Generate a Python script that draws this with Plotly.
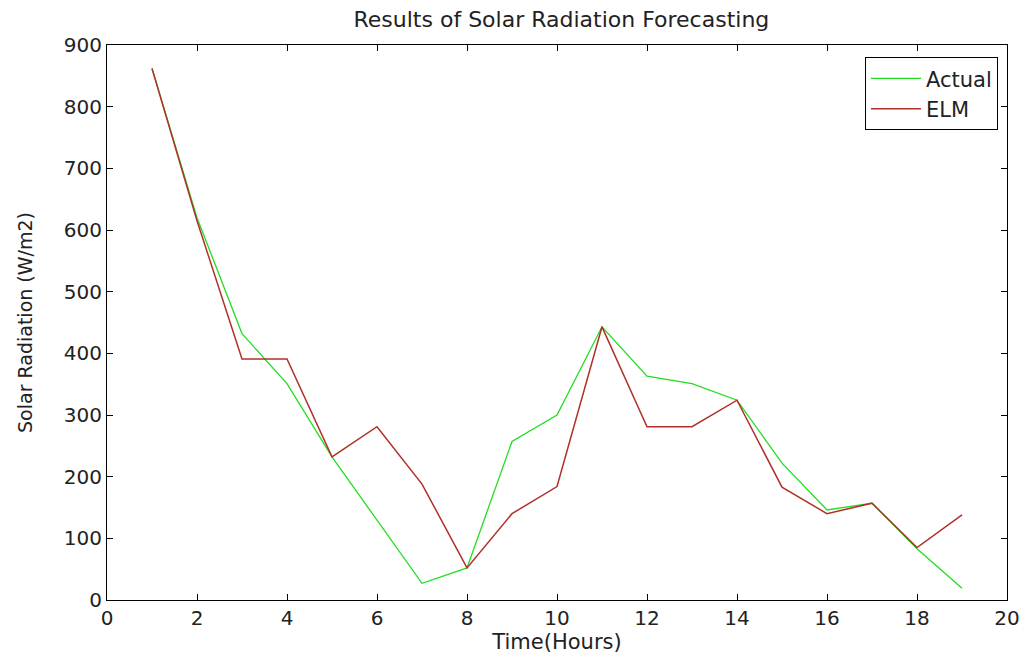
import plotly.graph_objects as go

hours = list(range(1, 20))
actual = [862, 620, 432, 351, 232, 130, 27, 52, 257, 300, 443, 363, 351, 324, 222, 146, 157, 83, 19]
elm = [862, 615, 391, 391, 232, 281, 188, 52, 140, 184, 443, 281, 281, 324, 183, 140, 157, 85, 138]

x_ticks = list(range(0, 21, 2))
y_ticks = list(range(0, 901, 100))

FONT = "DejaVu Sans"

fig = go.Figure()
fig.add_trace(go.Scatter(x=hours, y=actual, mode="lines", name="Actual",
                         line=dict(color="#22dd22", width=1.3)))
fig.add_trace(go.Scatter(x=hours, y=elm, mode="lines", name="ELM",
                         line=dict(color="#b0302a", width=1.5)))

axis_common = dict(showgrid=False, zeroline=False, showline=True, linecolor="black",
                   linewidth=1.2, mirror="ticks", ticks="inside", ticklen=6,
                   tickcolor="black", tickfont=dict(family=FONT, size=20, color="#222"))

fig.update_layout(
    width=1032, height=658,
    paper_bgcolor="white", plot_bgcolor="white",
    margin=dict(l=107, r=15, t=45, b=58),
    title=dict(text="Results of Solar Radiation Forecasting", x=0.544, xanchor="center",
               y=0.97, yanchor="middle",
               font=dict(family=FONT, size=22, color="#222")),
    xaxis=dict(range=[0, 20], tickvals=x_ticks,
               title=dict(text="Time(Hours)", standoff=0,
                          font=dict(family=FONT, size=21, color="#222")),
               **axis_common),
    yaxis=dict(range=[0, 900], tickvals=y_ticks,
               title=dict(text="Solar Radiation (W/m2)", standoff=26,
                          font=dict(family=FONT, size=19, color="#222")),
               **axis_common),
    legend=dict(x=0.99, y=0.978, xanchor="right", yanchor="top",
                bordercolor="black", borderwidth=1, bgcolor="white",
                font=dict(family=FONT, size=21, color="#222"),
                itemwidth=50, tracegroupgap=0),
    showlegend=True,
)

fig.write_html("out.html")
